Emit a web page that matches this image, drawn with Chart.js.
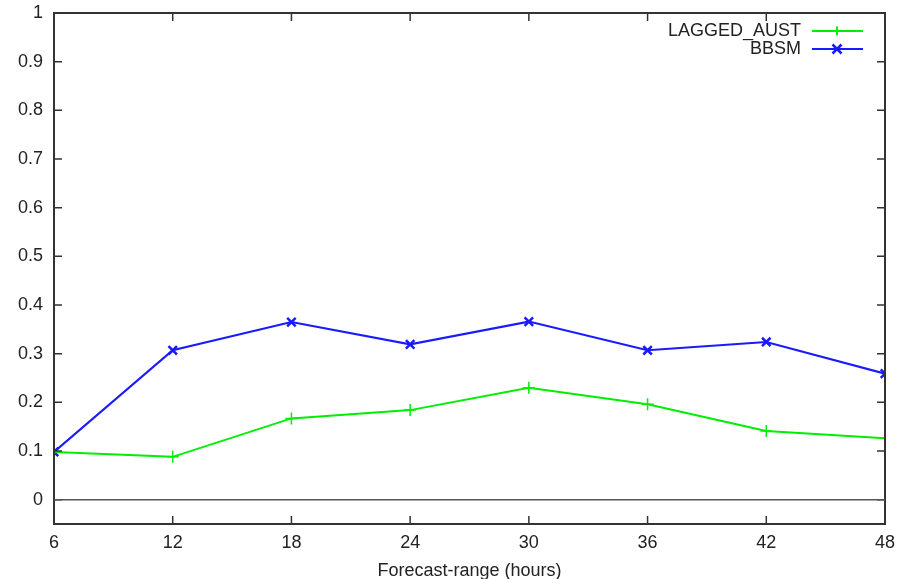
<!DOCTYPE html>
<html>
<head>
<meta charset="utf-8">
<script src="https://cdn.jsdelivr.net/npm/chart.js@4.4.1/dist/chart.umd.min.js"></script>
<style>
	html, body { margin: 0; padding: 0; background: #fff; }
	#wrap { width: 908px; height: 579px; }
</style>
</head>
<body>
<div id="wrap"><canvas id="chart" width="908" height="579"></canvas></div>
<script>
// forecast range (hours) on the x axis
const hours = [6, 12, 18, 24, 30, 36, 42, 48];
const laggedAust = [0.098, 0.088, 0.167, 0.184, 0.230, 0.196, 0.141, 0.126];
const bbsm = [0.098, 0.307, 0.365, 0.319, 0.366, 0.307, 0.324, 0.259];
const yTicks = [0, 0.1, 0.2, 0.3, 0.4, 0.5, 0.6, 0.7, 0.8, 0.9, 1];

const font = { family: "'Liberation Sans', Arial, sans-serif", size: 18 };
const textColor = '#222';

const toPoints = (vals) => hours.map((h, i) => ({ x: h, y: vals[i] }));

// frame, inward ticks on all four sides, zero line and legend, gnuplot style
const framePlugin = {
	id: 'frame',
	afterDatasetsDraw(chart) {
		const ctx = chart.ctx;
		const { left, right, top, bottom } = chart.chartArea;
		const xs = chart.scales.x;
		const ys = chart.scales.y;
		const tl = 8;
		ctx.save();
		ctx.strokeStyle = '#333';
		ctx.lineWidth = 2;
		ctx.strokeRect(left, top, right - left, bottom - top);
		ctx.lineWidth = 1.5;
		ctx.beginPath();
		hours.forEach((h) => {
			const px = xs.getPixelForValue(h);
			ctx.moveTo(px, bottom);
			ctx.lineTo(px, bottom - tl);
			ctx.moveTo(px, top);
			ctx.lineTo(px, top + tl);
		});
		yTicks.forEach((v) => {
			const py = ys.getPixelForValue(v);
			ctx.moveTo(left, py);
			ctx.lineTo(left + tl, py);
			ctx.moveTo(right, py);
			ctx.lineTo(right - tl, py);
		});
		ctx.stroke();

		// zero axis
		ctx.strokeStyle = '#555';
		ctx.lineWidth = 1.5;
		const zy = ys.getPixelForValue(0);
		ctx.beginPath();
		ctx.moveTo(left, zy);
		ctx.lineTo(right, zy);
		ctx.stroke();

		// legend
		ctx.font = font.size + 'px ' + font.family;
		ctx.textAlign = 'right';
		ctx.textBaseline = 'middle';
		chart.data.datasets.forEach((ds, i) => {
			const ly = 31 + i * 18;
			ctx.fillStyle = textColor;
			ctx.fillText(ds.label, 801, ly);
			ctx.strokeStyle = ds.borderColor;
			ctx.lineWidth = 2;
			ctx.beginPath();
			ctx.moveTo(812, ly);
			ctx.lineTo(863, ly);
			ctx.stroke();
			const cx = 837;
			const r = 4.5;
			ctx.beginPath();
			if (ds.pointStyle === 'cross') {
				ctx.moveTo(cx - r, ly);
				ctx.lineTo(cx + r, ly);
				ctx.moveTo(cx, ly - r);
				ctx.lineTo(cx, ly + r);
			} else {
				ctx.lineWidth = 2.5;
				ctx.moveTo(cx - r, ly - r);
				ctx.lineTo(cx + r, ly + r);
				ctx.moveTo(cx - r, ly + r);
				ctx.lineTo(cx + r, ly - r);
			}
			ctx.stroke();
		});
		ctx.restore();
	},
};

const chartCanvas = document.getElementById('chart');

const chartData = {
	datasets: [
		{
			label: 'LAGGED_AUST',
			data: toPoints(laggedAust),
			borderColor: '#00ee00',
			backgroundColor: '#00ee00',
			borderWidth: 2,
			pointStyle: 'cross',
			pointRadius: 6,
			pointBorderWidth: 1.5,
			tension: 0,
		},
		{
			label: 'BBSM',
			data: toPoints(bbsm),
			borderColor: '#1a1aff',
			backgroundColor: '#1a1aff',
			borderWidth: 2.2,
			pointStyle: 'crossRot',
			pointRadius: 6,
			pointBorderWidth: 2.5,
			tension: 0,
		},
	],
};

const chartOptions = {
	responsive: false,
	animation: false,
	layout: {
		padding: { top: 13, right: 23, left: 0, bottom: 0 },
	},
	scales: {
		x: {
			type: 'linear',
			min: 6,
			max: 48,
			afterBuildTicks: (scale) => {
				scale.ticks = hours.map((v) => ({ value: v }));
			},
			afterFit: (scale) => {
				scale.height = 55;
				scale.paddingLeft = 0;
				scale.paddingRight = 0;
			},
			grid: { display: false, drawTicks: false },
			border: { display: false },
			ticks: {
				padding: 8,
				color: textColor,
				font: font,
				maxRotation: 0,
			},
			title: {
				display: true,
				text: 'Forecast-range (hours)',
				color: textColor,
				font: font,
				padding: { top: 0, bottom: -3 },
			},
		},
		y: {
			min: -0.05,
			max: 1,
			afterBuildTicks: (scale) => {
				scale.ticks = yTicks.map((v) => ({ value: v }));
			},
			afterFit: (scale) => {
				scale.width = 54;
				scale.paddingTop = 0;
				scale.paddingBottom = 0;
			},
			grid: { display: false, drawTicks: false },
			border: { display: false },
			ticks: {
				padding: 11,
				color: textColor,
				font: font,
				callback: (v) => String(Math.round(v * 10) / 10),
			},
		},
	},
	plugins: {
		legend: { display: false },
		tooltip: { enabled: false },
	},
};

const mainChart = new Chart(chartCanvas, {
	type: 'line',
	data: chartData,
	options: chartOptions,
	plugins: [framePlugin],
});
</script>
</body>
</html>
